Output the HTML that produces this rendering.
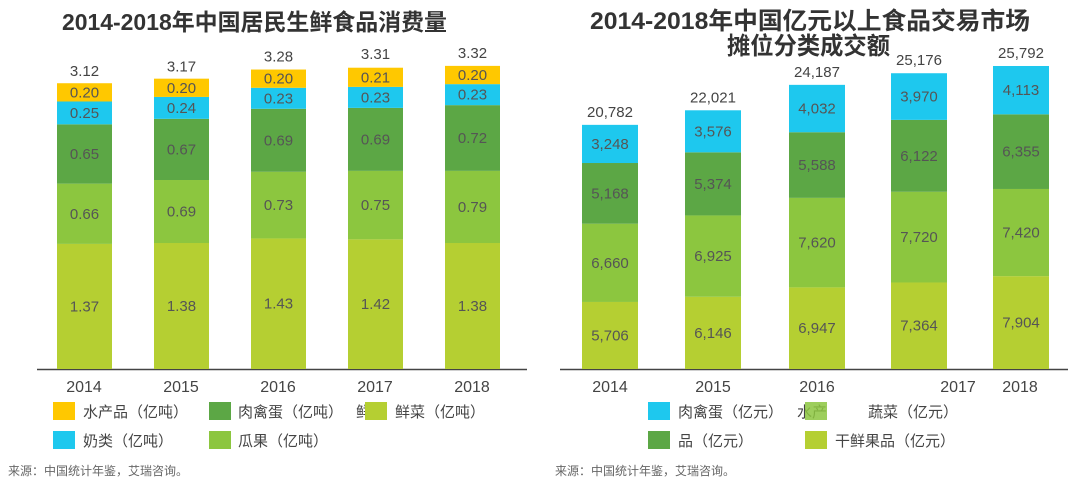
<!DOCTYPE html>
<html><head><meta charset="utf-8">
<style>
body{margin:0;background:#fff;width:1080px;height:484px;overflow:hidden}
svg text{font-family:"Liberation Sans","Noto Sans CJK SC",sans-serif}
</style></head>
<body>
<svg id="c" width="1080" height="484" viewBox="0 0 1080 484" xmlns="http://www.w3.org/2000/svg">
<text x="62" y="30" font-size="23" font-weight="bold" fill="#333" textLength="385" lengthAdjust="spacingAndGlyphs">2014-2018年中国居民生鲜食品消费量</text>
<text x="590" y="29" font-size="24" font-weight="bold" fill="#333" textLength="440" lengthAdjust="spacingAndGlyphs">2014-2018年中国亿元以上食品交易市场</text>
<text x="727" y="54" font-size="24" font-weight="bold" fill="#333" textLength="163" lengthAdjust="spacingAndGlyphs">摊位分类成交额</text>
<line x1="37" y1="369.5" x2="527" y2="369.5" stroke="#444" stroke-width="1.5"/>
<line x1="560" y1="369.5" x2="1068" y2="369.5" stroke="#444" stroke-width="1.5"/>
<g id="L"></g><g id="R"></g>
<g font-size="15" fill="#444">
<rect x="53" y="402" width="22" height="18" fill="#FFC800"/>
<text x="83" y="417">水产品（亿吨）</text>
<rect x="209" y="402" width="22" height="18" fill="#5CA745"/>
<text x="238" y="417">肉禽蛋（亿吨）</text>
<text x="356" y="417">鲜</text>
<rect x="365" y="402" width="22" height="18" fill="#B5CF32"/>
<text x="395" y="417">鲜菜（亿吨）</text>
<rect x="53" y="431" width="22" height="18" fill="#1EC8EE"/>
<text x="83" y="446">奶类（亿吨）</text>
<rect x="209" y="431" width="22" height="18" fill="#8CC63F"/>
<text x="238" y="446">瓜果（亿吨）</text>

<rect x="648" y="402" width="22" height="18" fill="#1EC8EE"/>
<text x="678" y="417">肉禽蛋（亿元）</text>
<text x="797" y="417">水产</text>
<rect x="805" y="402" width="22" height="18" fill="#8CC63F" opacity="0.85"/>
<text x="868" y="417">蔬菜（亿元）</text>
<rect x="648" y="431" width="22" height="18" fill="#5CA745"/>
<text x="678" y="446">品（亿元）</text>
<rect x="805" y="431" width="22" height="18" fill="#B5CF32"/>
<text x="835" y="446">干鲜果品（亿元）</text>
</g>
<text x="8" y="475" font-size="12" fill="#666">来源：中国统计年鉴，艾瑞咨询。</text>
<text x="555" y="475" font-size="12" fill="#666">来源：中国统计年鉴，艾瑞咨询。</text>
</svg>
<script>
const years=["2014","2015","2016","2017","2018"];
const lVeg=[1.37,1.38,1.43,1.42,1.38];
const lFruit=[0.66,0.69,0.73,0.75,0.79];
const lMeat=[0.65,0.67,0.69,0.69,0.72];
const lDairy=[0.25,0.24,0.23,0.23,0.23];
const lAqua=[0.20,0.20,0.20,0.21,0.20];
const lTotal=[3.12,3.17,3.28,3.31,3.32];
const rFruit=[5706,6146,6947,7364,7904];
const rVeg=[6660,6925,7620,7720,7420];
const rAqua=[5168,5374,5588,6122,6355];
const rMeat=[3248,3576,4032,3970,4113];
const rTotal=[20782,22021,24187,25176,25792];
const NS="http://www.w3.org/2000/svg";
const base=369;
function draw(gid,series,colors,names,totals,scale,xs,w,fmt,yearX,pre){
  const g=document.getElementById(gid);
  years.forEach((yr,i)=>{
    let acc=0;
    series.forEach((s,k)=>{
      const y1=base-acc*scale, h=s[i]*scale; acc+=s[i];
      const r=document.createElementNS(NS,"rect");
      r.setAttribute("x",xs[i]);r.setAttribute("y",y1-h);r.setAttribute("width",w);r.setAttribute("height",h);r.setAttribute("fill",colors[k]);
      
      
      g.appendChild(r);
      const t=document.createElementNS(NS,"text");
      t.setAttribute("x",xs[i]+w/2);t.setAttribute("y",y1-h/2+5);t.setAttribute("text-anchor","middle");t.setAttribute("font-size","15");t.setAttribute("fill","#555");
      t.textContent=fmt(s[i]);
      
      
      g.appendChild(t);
    });
    const t=document.createElementNS(NS,"text");
    t.setAttribute("x",xs[i]+w/2);t.setAttribute("y",base-totals[i]*scale-8);t.setAttribute("text-anchor","middle");t.setAttribute("font-size","15");t.setAttribute("fill","#444");
    t.textContent=fmt(totals[i]);
    
    
    g.appendChild(t);
    const a=document.createElementNS(NS,"text");
    a.setAttribute("x",yearX[i]);a.setAttribute("y",392);a.setAttribute("text-anchor","middle");a.setAttribute("font-size","16");a.setAttribute("fill","#444");
    a.textContent=yr;
    
    
    g.appendChild(a);
  });
}
const lx=[57,154,251,348,445];
draw("L",[lVeg,lFruit,lMeat,lDairy,lAqua],["#B5CF32","#8CC63F","#5CA745","#1EC8EE","#FFC800"],["veg","fruit","meat","dairy","aqua"],lTotal,91.3,lx,55,v=>v.toFixed(2),lx.map(x=>x+27),"left-");
const rx=[582,685,789,891,993];
draw("R",[rFruit,rVeg,rAqua,rMeat],["#B5CF32","#8CC63F","#5CA745","#1EC8EE"],["fruit","veg","aqua","meat"],rTotal,0.011748,rx,56,v=>v.toLocaleString("en-US"),[610,713,817,958,1020],"right-");
</script>
</body></html>
